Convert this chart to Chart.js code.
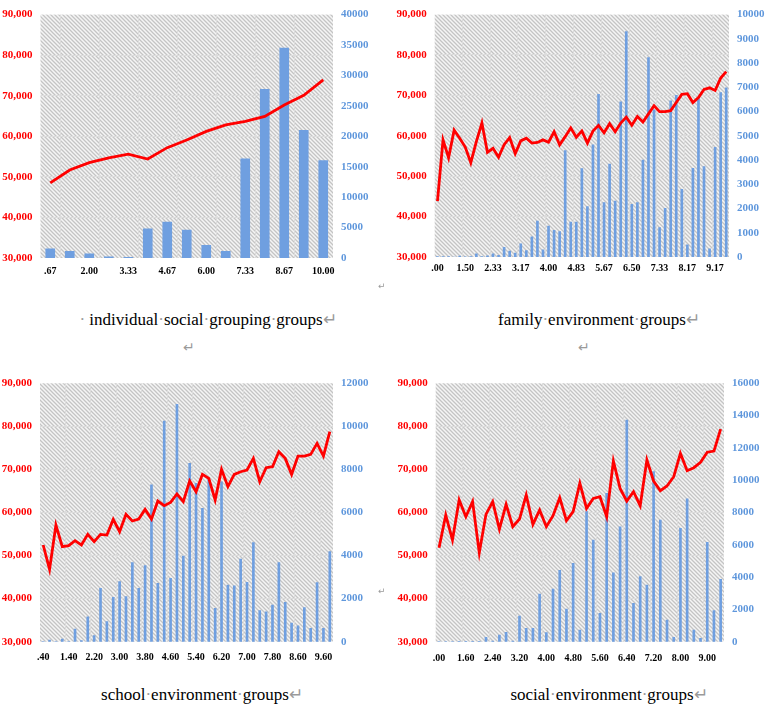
<!DOCTYPE html>
<html>
<head>
<meta charset="utf-8">
<script src="https://cdn.jsdelivr.net/npm/chart.js@4.4.0/dist/chart.umd.min.js"></script>
<style>
  html, body { margin: 0; padding: 0; background: #fff; }
  body { width: 767px; height: 710px; position: relative; overflow: hidden; }
  canvas { position: absolute; }
  .title {
    position: absolute;
    font-family: "Liberation Serif", serif;
    font-size: 17px;
    line-height: 20px;
    color: #000;
    white-space: nowrap;
    transform: translateX(-50%);
  }
  .mark { color: #9a9a9a; }
  .para { position: absolute; color: #9a9a9a; font-family: "DejaVu Sans", sans-serif; }
</style>
</head>
<body>
<canvas id="c1" style="left:0;top:0" width="384" height="290"></canvas>
<canvas id="c2" style="left:384px;top:0" width="383" height="290"></canvas>
<canvas id="c3" style="left:0;top:360px" width="384" height="305"></canvas>
<canvas id="c4" style="left:384px;top:360px" width="383" height="305"></canvas>

<div class="title" style="left:208px;top:310px"><span class="mark">·</span> individual<span class="mark">·</span>social<span class="mark">·</span>grouping<span class="mark">·</span>groups<span class="mark">↵</span></div>
<div class="title" style="left:599px;top:310px">family<span class="mark">·</span>environment<span class="mark">·</span>groups<span class="mark">↵</span></div>
<div class="title" style="left:202px;top:685px">school<span class="mark">·</span>environment<span class="mark">·</span>groups<span class="mark">↵</span></div>
<div class="title" style="left:609px;top:685px">social<span class="mark">·</span>environment<span class="mark">·</span>groups<span class="mark">↵</span></div>

<div class="para" style="left:183px;top:339px;font-size:14px">↵</div>
<div class="para" style="left:578px;top:339px;font-size:14px">↵</div>
<div class="para" style="left:378px;top:281px;font-size:9px">↵</div>
<div class="para" style="left:378px;top:586px;font-size:9px">↵</div>

<script>
// ==============================
// DATA
// ==============================

// individual social grouping groups
const labels1 = [".67", "1.33", "2.00", "2.67", "3.33", "4.00", "4.67", "5.33", "6.00", "6.67",
  "7.33", "8.00", "8.67", "9.33", "10.00"];
const bars1 = [1500, 1100, 700, 200, 100, 4800, 5900, 4600, 2100, 1100, 16300, 27700, 34500, 21000, 16000];
const line1 = [48500, 51700, 53500, 54700, 55600, 54400, 57200, 59100, 61200, 62800, 63700, 64900,
  67700, 70100, 73900];

// family environment groups
const labels2 = [".00", ".67", ".83", "1.00", "1.17", "1.50", "1.67", "1.83", "2.00", "2.17",
  "2.33", "2.50", "2.67", "2.83", "3.00", "3.17", "3.33", "3.50", "3.67", "3.83",
  "4.00", "4.17", "4.33", "4.50", "4.67", "4.83", "5.00", "5.17", "5.33", "5.50",
  "5.67", "5.83", "6.00", "6.17", "6.33", "6.50", "6.67", "6.83", "7.00", "7.17",
  "7.33", "7.50", "7.67", "7.83", "8.00", "8.17", "8.33", "8.50", "8.83", "9.00",
  "9.17", "9.33", "9.67"];
const bars2 = [20, 20, 20, 0, 40, 10, 20, 130, 20, 50,
  130, 70, 400, 240, 160, 540, 270, 830, 1480, 300,
  1280, 1100, 1050, 4390, 1440, 1440, 3650, 2080, 4630, 6710,
  2250, 3830, 2310, 6400, 9300, 2170, 2240, 4000, 8230, 6070,
  1210, 2010, 6440, 6670, 2790, 500, 3660, 6540, 3730, 340,
  4520, 6780, 6980];
const line2 = [43850, 59000, 54560, 61400, 59400, 57200, 53350, 58580, 63170, 55900,
  56900, 54700, 57800, 59550, 55600, 58740, 59390, 58180, 58340, 58990,
  58420, 61000, 57780, 59790, 61960, 59630, 61200, 58180, 61160, 62600,
  60760, 63000, 61000, 63170, 64620, 62600, 64780, 63410, 65420, 67440,
  65990, 65990, 66230, 68240, 70260, 70420, 68240, 69450, 71470, 71870,
  71220, 74280, 75890];

// school environment groups
const labels3 = [".40", ".60", "1.00", "1.20", "1.40", "1.60", "1.80", "2.00", "2.20", "2.40",
  "2.60", "2.80", "3.00", "3.20", "3.40", "3.60", "3.80", "4.00", "4.20", "4.40",
  "4.60", "4.80", "5.00", "5.20", "5.40", "5.60", "5.80", "6.00", "6.20", "6.40",
  "6.60", "6.80", "7.00", "7.20", "7.40", "7.60", "7.80", "8.00", "8.20", "8.40",
  "8.60", "8.80", "9.00", "9.40", "9.60", "9.80"];
const bars3 = [0, 80, 0, 120, 0, 590, 50, 1160, 280, 2480,
  930, 2060, 2790, 2090, 3670, 2480, 3530, 7280, 2710, 10250,
  2940, 11020, 3980, 8280, 7350, 6190, 7510, 1550, 7430, 2630,
  2600, 3840, 2760, 4600, 1440, 1390, 1700, 3670, 1830, 870,
  740, 1590, 620, 2740, 620, 4180];
const line3 = [52450, 46800, 57090, 52060, 52290, 53450, 52450, 54920, 53220, 54920,
  54770, 58400, 55540, 59570, 58020, 58480, 60730, 58480, 62660, 61580,
  62350, 64290, 62510, 67310, 64830, 68850, 67930, 62900, 70020, 66000,
  68850, 69470, 69860, 72570, 67150, 70400, 70630, 74120, 72570, 68850,
  73110, 73110, 73500, 76050, 73110, 78760];

// social environment groups
const labels4 = [".00", ".40", ".80", "1.20", "1.60", "1.80", "2.00", "2.20", "2.40", "2.60",
  "2.80", "3.00", "3.20", "3.40", "3.60", "3.80", "4.00", "4.20", "4.40", "4.60",
  "4.80", "5.00", "5.20", "5.40", "5.60", "5.80", "6.00", "6.20", "6.40", "6.60",
  "6.80", "7.00", "7.20", "7.40", "7.60", "7.80", "8.00", "8.20", "8.40", "8.80",
  "9.00", "9.20", "9.40"];
const bars4 = [0, 0, 0, 30, 30, 30, 30, 270, 40, 410,
  580, 40, 1590, 830, 830, 2950, 560, 3260, 4420, 2020,
  4850, 720, 8050, 6300, 1750, 9190, 4270, 7120, 13730, 2370,
  4030, 3510, 10530, 7530, 1340, 270, 7020, 8840, 720, 210,
  6150, 1920, 3860];
const line4 = [51830, 59410, 53610, 62900, 59020, 62510, 50670, 59570, 62510, 56160,
  61890, 56700, 58480, 64060, 57240, 60570, 56700, 59260, 63440, 58100,
  60190, 66770, 60960, 63280, 63670, 59020, 71950, 65600, 62660, 64830,
  61580, 72180, 67310, 65060, 66150, 68310, 73730, 69710, 70400, 71640,
  74000, 74270, 79380];

// ==============================
// HATCHED PLOT BACKGROUND
// ==============================
const hatchTile = document.createElement("canvas");
hatchTile.width = 4;
hatchTile.height = 4;
(function () {
  const g = hatchTile.getContext("2d");
  g.fillStyle = "#f5f5f5";
  g.fillRect(0, 0, 4, 4);
  g.strokeStyle = "#c4c4c4";
  g.lineWidth = 1.3;
  g.beginPath();
  g.moveTo(-1, -1); g.lineTo(5, 5);
  g.moveTo(-1, 3); g.lineTo(1, 5);
  g.moveTo(3, -1); g.lineTo(5, 1);
  g.stroke();
})();

const hatchPlugin = {
  id: "hatch",
  beforeDraw(chart) {
    const { ctx, chartArea: a } = chart;
    ctx.save();
    ctx.fillStyle = ctx.createPattern(hatchTile, "repeat");
    ctx.fillRect(a.left, a.top, a.right - a.left, a.bottom - a.top);
    ctx.restore();
  },
};

// ==============================
// ONE PANEL
// ==============================
function drawPanel(id, labels, bars, line, opt) {
  const n = labels.length;
  const tickFont = { family: "Liberation Serif", size: 11, weight: "bold" };

  return new Chart(document.getElementById(id), {
    type: "bar",
    data: {
      labels,
      datasets: [
        {
          type: "line",
          data: line,
          yAxisID: "yL",
          borderColor: "#ff0000",
          borderWidth: 2.8,
          pointRadius: 0,
          tension: 0,
          order: 0,
        },
        {
          type: "bar",
          data: bars,
          yAxisID: "yR",
          backgroundColor: "#6f9fe0",
          barThickness: opt.barW,
          order: 1,
        },
      ],
    },
    options: {
      responsive: false,
      animation: false,
      events: [],
      layout: { padding: { top: opt.top, left: 0, right: 0, bottom: 0 } },
      plugins: { legend: { display: false }, tooltip: { enabled: false } },
      scales: {
        x: {
          offset: true,
          border: { display: false },
          grid: {
            offset: true,
            drawTicks: false,
            lineWidth: 1,
            color: (c) => {
              if (c.type !== "tick" || c.index === 0 || c.index >= n) return "transparent";
              return (c.index - opt.phase) % opt.step === 0 ? "#dcdcdc" : "transparent";
            },
          },
          ticks: {
            autoSkip: false,
            maxRotation: 0,
            minRotation: 0,
            padding: opt.xPad,
            color: "#000",
            font: { family: "Liberation Serif", size: opt.xFont, weight: "bold" },
            callback: function (v, i) {
              return i % opt.step === 0 ? this.getLabelForValue(v) : "";
            },
          },
          afterFit: (s) => { s.height = opt.xH; },
        },
        yL: {
          position: "left",
          min: 30000,
          max: 90000,
          border: { display: false },
          grid: {
            drawTicks: false,
            color: (c) =>
              c.tick && (c.tick.value === 30000 || c.tick.value === 90000) ? "transparent" : "#dcdcdc",
          },
          ticks: {
            stepSize: 10000,
            padding: 8,
            color: "#ff0000",
            font: tickFont,
            callback: (v) => v.toLocaleString("en-US"),
          },
          afterFit: (s) => { s.width = opt.leftW; },
        },
        yR: {
          position: "right",
          min: 0,
          max: opt.rMax,
          border: { display: false },
          grid: { display: false, drawTicks: false },
          ticks: {
            stepSize: opt.rStep,
            padding: 8,
            color: "#5f97dc",
            font: tickFont,
            callback: (v) => String(v),
          },
          afterFit: (s) => { s.width = opt.rightW; },
        },
      },
    },
    plugins: [hatchPlugin],
  });
}

// ==============================
// DRAW ALL FOUR
// ==============================
drawPanel("c1", labels1, bars1, line1, {
  top: 10, leftW: 40.5, rightW: 51, xH: 32, xPad: 7, xFont: 10,
  rMax: 40000, rStep: 5000, step: 2, phase: 1, barW: 9,
});

drawPanel("c2", labels2, bars2, line2, {
  top: 8, leftW: 50.7, rightW: 38, xH: 33, xPad: 5, xFont: 10,
  rMax: 10000, rStep: 1000, step: 5, phase: 0, barW: 2,
});

drawPanel("c3", labels3, bars3, line3, {
  top: 23.3, leftW: 40, rightW: 51, xH: 23.3, xPad: 10, xFont: 10,
  rMax: 12000, rStep: 2000, step: 4, phase: 0, barW: 2,
});

drawPanel("c4", labels4, bars4, line4, {
  top: 23.3, leftW: 51.7, rightW: 43, xH: 23.3, xPad: 11, xFont: 10,
  rMax: 16000, rStep: 2000, step: 4, phase: 0, barW: 2,
});
</script>
</body>
</html>
